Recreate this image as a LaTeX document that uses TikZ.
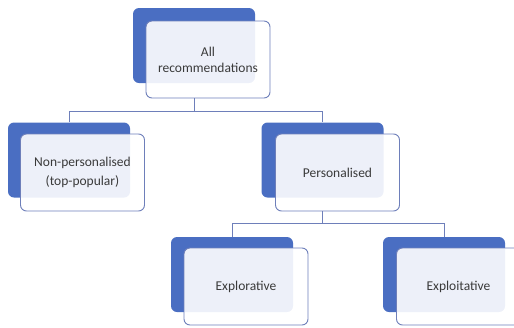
\documentclass[tikz,border=0pt]{standalone}
\usepackage{fontspec}
\setmainfont{Carlito}
\definecolor{boxblue}{HTML}{4A6EC2}
\definecolor{edgeblue}{HTML}{6E7FBA}
\definecolor{txt}{HTML}{3A3A3A}
\tikzset{
  backbox/.style={draw=none, fill=boxblue, rounded corners=6pt, minimum width=122pt, minimum height=75pt, inner sep=0pt},
  frontbox/.style={draw=edgeblue, line width=0.9pt, fill=white, fill opacity=0.9, text opacity=1, rounded corners=6pt, minimum width=124pt, minimum height=77pt, inner sep=0pt, align=center, text=txt, font=\fontsize{13.5}{16}\selectfont},
  link/.style={draw=edgeblue, line width=0.9pt},
}
\begin{document}
\begin{tikzpicture}[x=1pt,y=-1pt]
\useasboundingbox (0,0) rectangle (514,327);
% back boxes
\node[backbox] (topB) at (194,45.5) {};
\node[backbox] (npB) at (69,160) {};
\node[backbox] (pB) at (322.5,160) {};
\node[backbox] (exB) at (232,274.5) {};
\node[backbox] (eiB) at (444,274.5) {};
% front boxes
\node[frontbox] (topF) at (208,59.5) {All\\recommendations};
\node[frontbox, font=\fontsize{13.5}{19}\selectfont] (npF) at (82.5,172.5) {Non-personalised\\(top-popular)};
\node[frontbox] (pF) at (337.5,172.5) {Personalised};
\node[frontbox] (exF) at (246,286.5) {Explorative};
\node[frontbox] (eiF) at (458.5,286.5) {Exploitative};
% connectors
\coordinate (j1) at (194,111);
\coordinate (j2) at (322.5,223);
\draw[link] (topB |- topF.south) -- (j1);
\draw[link] (npB.north) -- (npB |- j1) -- (pB |- j1) -- (pB.north);
\draw[link] (pB |- pF.south) -- (j2);
\draw[link] (exB.north) -- (exB |- j2) -- (eiB |- j2) -- (eiB.north);
\end{tikzpicture}
\end{document}
